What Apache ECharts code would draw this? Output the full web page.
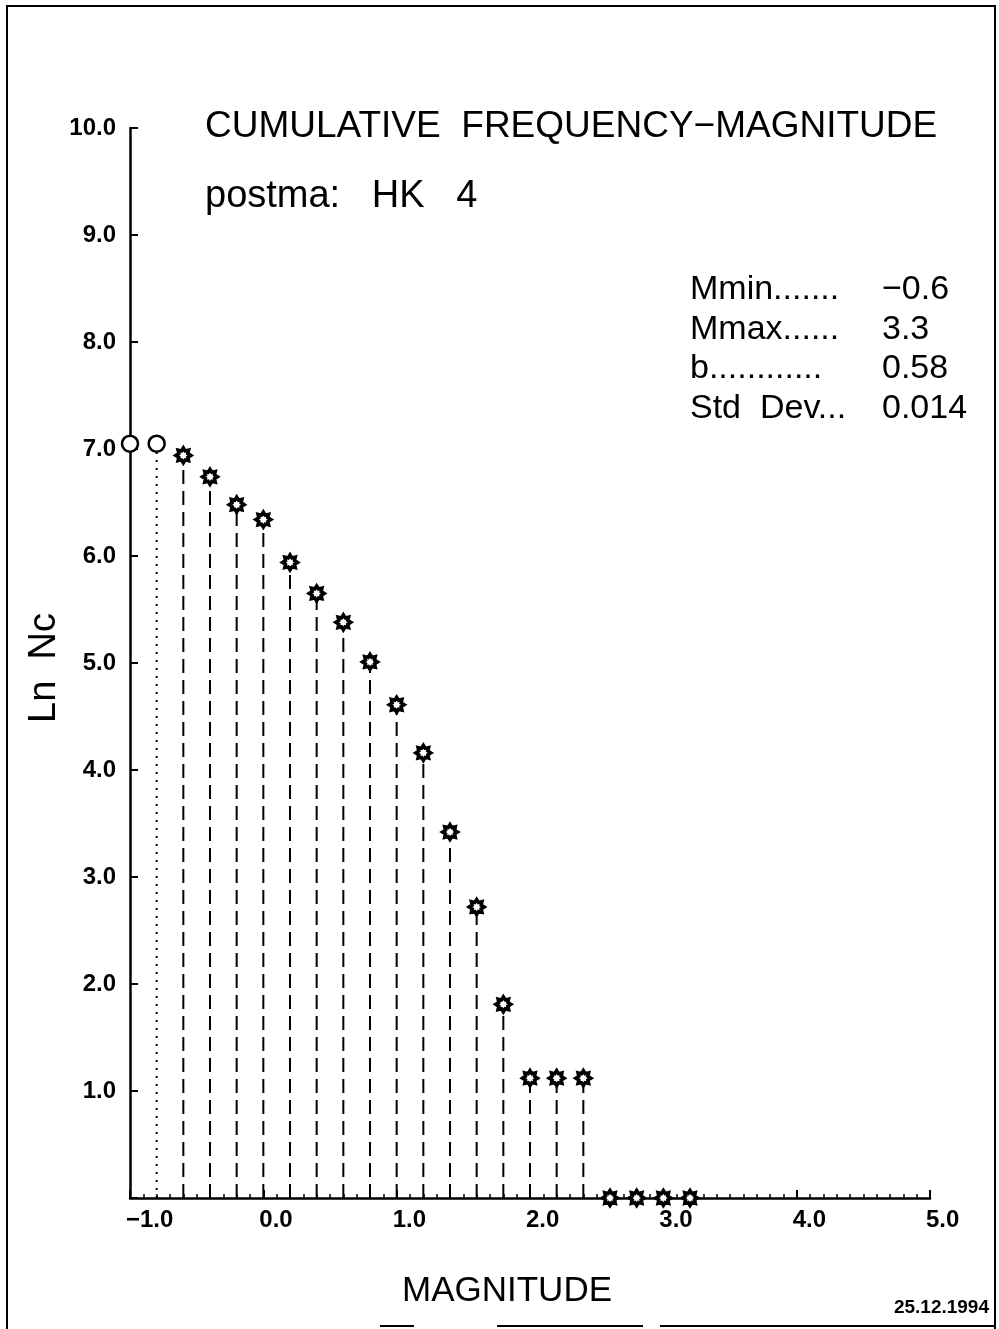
<!DOCTYPE html>
<html>
<head>
<meta charset="utf-8">
<script src="https://cdn.jsdelivr.net/npm/echarts@6/dist/echarts.min.js"></script>
<style>
html,body{margin:0;padding:0;background:#fff;}
#c{width:999px;height:1329px;}
</style>
</head>
<body>
<div id="c"></div>
<script>
// ---- data ----
const magnitudes = [-1.0,-0.8,-0.6,-0.4,-0.2,0.0,0.2,0.4,0.6,0.8,1.0,1.2,1.4,1.6,1.8,2.0,2.2,2.4,2.6,2.8,3.0,3.2];
const lnNc       = [7.05,7.05,6.94,6.74,6.48,6.34,5.94,5.65,5.38,5.01,4.61,4.16,3.42,2.72,1.81,1.12,1.12,1.12,0,0,0,0];
const mMin = -0.6;           // points below Mmin drawn as circles
const statLabels = ['Mmin.......', 'Mmax......', 'b............', 'Std  Dev...'];
const statValues = ['\u22120.6', '3.3', '0.58', '0.014'];
const titleText = 'CUMULATIVE  FREQUENCY\u2212MAGNITUDE';
const subtitleText = 'postma:   HK   4';
const xName = 'MAGNITUDE';
const yName = 'Ln  Nc';
const dateText = '25.12.1994';

// ---- build series data ----
const pts = magnitudes.map((m, i) => [m, lnNc[i]]);
const circlePts = pts.filter(p => p[0] < mMin - 1e-9);
const starPts = pts.filter(p => p[0] >= mMin - 1e-9);
const dottedStems = circlePts.filter(p => p[0] > -1.0 + 1e-9 && p[1] > 0);
const dashedStems = starPts.filter(p => p[1] > 0);

const starPath = 'path://M20,10 L16,12.49 L17.07,17.07 L12.49,16 L10,20 L7.51,16 L2.93,17.07 L4,12.49 L0,10 L4,7.51 L2.93,2.93 L7.51,4 L10,0 L12.49,4 L17.07,2.93 L16,7.51 Z';

function stemRenderer(dash) {
  return function (params, api) {
    const x = api.value(0), y = api.value(1);
    const p0 = api.coord([x, 0]);
    const p1 = api.coord([x, y]);
    return {
      type: 'line',
      shape: { x1: p0[0], y1: p0[1], x2: p1[0], y2: p1[1] },
      style: { stroke: '#000', lineWidth: 2, lineDash: dash, fill: null }
    };
  };
}

const FONT = '"Liberation Sans", Arial, sans-serif';

const graphics = [];
// frame
graphics.push({ type: 'polyline', shape: { points: [[7, 1329], [7, 6], [995, 6], [995, 1329]] }, style: { stroke: '#000', lineWidth: 2, fill: null } });
[[380, 414], [497, 643], [660, 995]].forEach(s => {
  graphics.push({ type: 'line', shape: { x1: s[0], y1: 1326, x2: s[1], y2: 1326 }, style: { stroke: '#000', lineWidth: 2 } });
});
// title & subtitle
graphics.push({ type: 'text', left: 205, top: 108, style: { text: titleText, font: 'normal 37px ' + FONT, fill: '#000' } });
graphics.push({ type: 'text', left: 205, top: 178, style: { text: subtitleText, font: 'normal 38px ' + FONT, fill: '#000' } });
// stats block
statLabels.forEach((t, i) => {
  graphics.push({ type: 'text', left: 690, top: 273 + i * 39.5, style: { text: t, font: 'normal 34px ' + FONT, fill: '#000' } });
  graphics.push({ type: 'text', left: 882, top: 273 + i * 39.5, style: { text: statValues[i], font: 'normal 34px ' + FONT, fill: '#000' } });
});
// axis names
graphics.push({ type: 'text', x: 45, y: 668, rotation: Math.PI / 2, style: { text: yName, font: 'normal 38px ' + FONT, fill: '#000', align: 'center', verticalAlign: 'middle' } });
graphics.push({ type: 'text', x: 507, y: 1291, style: { text: xName, font: 'normal 35px ' + FONT, fill: '#000', align: 'center', verticalAlign: 'middle' } });
graphics.push({ type: 'text', x: 989, y: 1308, style: { text: dateText, font: 'bold 19px ' + FONT, fill: '#000', align: 'right', verticalAlign: 'middle' } });

const chart = echarts.init(document.getElementById('c'));
chart.setOption({
  animation: false,
  backgroundColor: '#fff',
  grid: { left: 130, right: 69, top: 128, bottom: 131, containLabel: false },
  xAxis: {
    type: 'value', min: -1, max: 5, interval: 1,
    axisLine: { show: true, onZero: false, lineStyle: { color: '#000', width: 2.5 } },
    axisTick: { show: true, inside: true, length: 8, lineStyle: { color: '#000', width: 2 } },
    minorTick: { show: true, splitNumber: 10, length: 4, lineStyle: { color: '#000', width: 1.5 } },
    splitLine: { show: false },
    axisLabel: {
      margin: 10, color: '#000', fontSize: 24, fontWeight: 'bold', fontFamily: FONT, align: 'left',
      padding: [0, 0, 0, -4],
      formatter: v => (v < 0 ? '\u2212' + Math.abs(v).toFixed(1) : v.toFixed(1))
    }
  },
  yAxis: {
    type: 'value', min: 0, max: 10, interval: 1,
    axisLine: { show: true, onZero: false, lineStyle: { color: '#000', width: 2.5 } },
    axisTick: { show: true, inside: true, length: 8, lineStyle: { color: '#000', width: 2 } },
    splitLine: { show: false },
    axisLabel: {
      margin: 14, color: '#000', fontSize: 24, fontWeight: 'bold', fontFamily: FONT,
      formatter: v => (v === 0 ? '' : v.toFixed(1))
    }
  },
  graphic: graphics,
  series: [
    { type: 'custom', name: 'dotted stems', data: dottedStems, renderItem: stemRenderer([2, 6]), z: 1, silent: true },
    { type: 'custom', name: 'dashed stems', data: dashedStems, renderItem: stemRenderer([14, 7]), z: 1, silent: true },
    {
      type: 'scatter', name: 'below Mmin', data: circlePts, symbol: 'circle', symbolSize: 16, z: 3,
      itemStyle: { color: '#fff', borderColor: '#000', borderWidth: 2.5, opacity: 1 }
    },
    {
      type: 'scatter', name: 'fitted', data: starPts, symbol: starPath, symbolSize: 15, z: 3,
      itemStyle: { color: '#fff', borderColor: '#000', borderWidth: 3.5, opacity: 1 }
    }
  ]
});
</script>
</body>
</html>
